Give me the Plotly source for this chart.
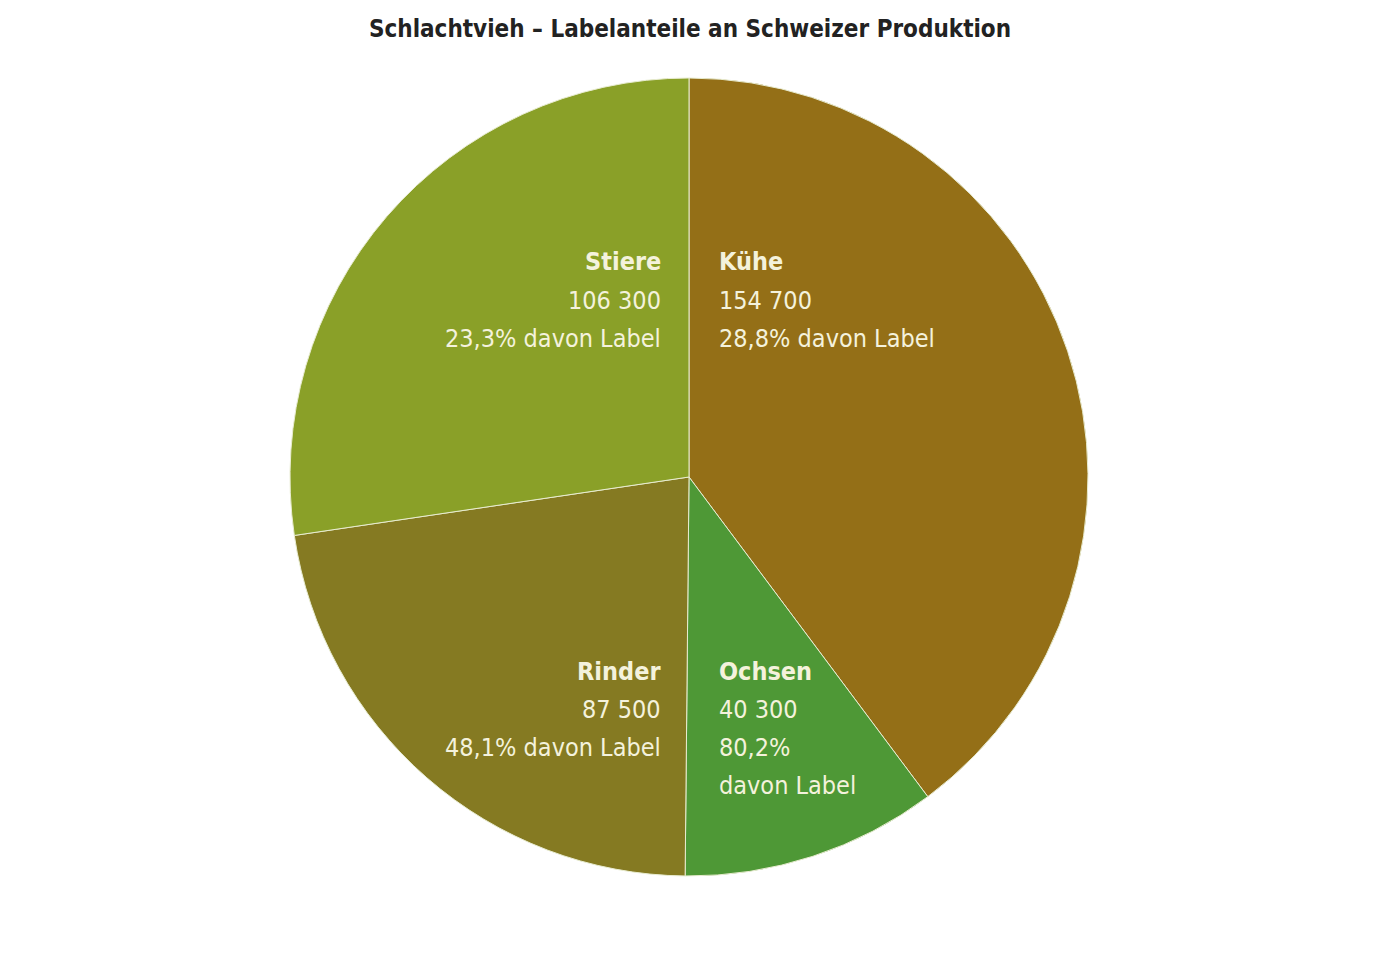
import plotly.graph_objects as go

# Schlachtvieh, Stückzahlen und Labelanteil in Prozent
categories = ["Kühe", "Ochsen", "Rinder", "Stiere"]
heads = [154700, 40300, 87500, 106300]
label_share = [28.8, 80.2, 48.1, 23.3]
colors = ["#946f17", "#4e9836", "#857a22", "#8aa028"]

W, H = 1400, 976
OFF = 8  # page margin of the html body
FONT = "Liberation Sans Narrow, DejaVu Sans Condensed, Arial Narrow, sans-serif"
TXT = "#f4f2dc"


def px_x(x):
    return (x - OFF) / W


def px_y(y):
    return 1 - (y - OFF) / H


def fmt_int(n):
    return f"{n:,}".replace(",", " ")


def fmt_pct(p):
    return f"{p:.1f}%".replace(".", ",")


fig = go.Figure(go.Pie(
    labels=categories,
    values=heads,
    marker=dict(colors=colors, line=dict(color="#e8ecd0", width=1)),
    sort=False,
    direction="clockwise",
    rotation=0,
    textinfo="none",
    showlegend=False,
    domain=dict(x=[px_x(290), px_x(1088)], y=[px_y(876), px_y(78)]),
))

# text blocks: right half left-aligned, left half right-aligned
place = {
    "Kühe": (717, "left", 262),
    "Ochsen": (717, "left", 671),
    "Rinder": (663, "right", 671),
    "Stiere": (663, "right", 262),
}
for cat, n, p in zip(categories, heads, label_share):
    x, anchor, y0 = place[cat]
    if cat == "Ochsen":
        lines = [fmt_int(n), fmt_pct(p), "davon Label"]
    else:
        lines = [fmt_int(n), fmt_pct(p) + " davon Label"]
    fig.add_annotation(x=px_x(x), y=px_y(y0), xref="paper", yref="paper",
                       text="<b>" + cat + "</b>", showarrow=False,
                       xanchor=anchor, yanchor="middle",
                       font=dict(family=FONT, size=25, color=TXT))
    for i, ln in enumerate(lines):
        fig.add_annotation(x=px_x(x), y=px_y(y0 + 38 * (i + 1)), xref="paper", yref="paper",
                           text=ln, showarrow=False,
                           xanchor=anchor, yanchor="middle",
                           font=dict(family=FONT, size=25, color=TXT))

fig.update_layout(
    width=W, height=H,
    margin=dict(l=0, r=0, t=0, b=0),
    paper_bgcolor="white",
    plot_bgcolor="white",
    title=dict(text="<b>Schlachtvieh – Labelanteile an Schweizer Produktion</b>",
               x=px_x(690), xanchor="center", y=px_y(29), yanchor="middle",
               font=dict(family=FONT, size=24, color="#222222")),
)

fig.write_html("out.html")
